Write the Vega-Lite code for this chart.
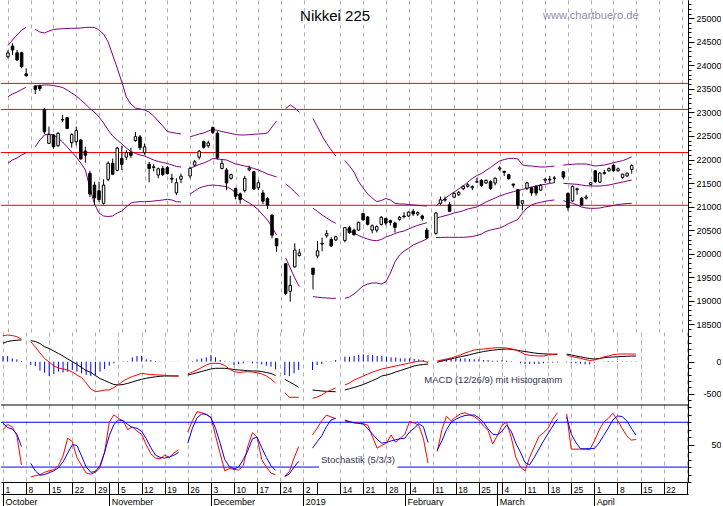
{
"$schema":"https://vega.github.io/schema/vega-lite/v6.json",
"padding":0,"background":"white",
"config":{"view":{"stroke":null},"font":"Liberation Sans","axis":{"labelFont":"Liberation Sans","labelFontSize":9,"labelColor":"#000","tickColor":"#000","domainColor":"#000","labelOverlap":false,"labelFlush":false,"labelBound":false}},
"datasets":{"px":[
{"t":0,"open":24185,"high":24320,"low":24150,"close":24265,"upper":24422,"mid":23334,"lower":21926,"macd":405,"signal":288,"hist":89,"k":70,"d":78.7},
{"t":1,"open":24412,"high":24469,"low":24220,"close":24326,"upper":24539,"mid":23392,"lower":21990,"macd":417,"signal":316,"hist":89,"k":77,"d":73},
{"t":2,"open":24269,"high":24326,"low":24099,"close":24114,"upper":24645,"mid":23434,"lower":22032,"macd":409,"signal":328,"hist":52,"k":74,"d":71},
{"t":3,"open":24269,"high":24290,"low":23937,"close":23972,"upper":24751,"mid":23487,"lower":22096,"macd":391,"signal":336,"hist":37,"k":62,"d":64},
{"t":4,"open":23820,"high":23938,"low":23760,"close":23783,"upper":24809,"mid":23534,"lower":22145,"macd":350,"signal":339,"hist":10,"k":23,"d":47.5},
{"t":5,"open":null,"high":null,"low":null,"close":null,"upper":null,"mid":null,"lower":null,"macd":null,"signal":null,"hist":null,"k":null,"d":null},
{"t":6,"open":23562,"high":23570,"low":23392,"close":23492,"upper":24766,"mid":23562,"lower":22272,"macd":313,"signal":328,"hist":-52,"k":6.6,"d":25},
{"t":7,"open":23560,"high":23590,"low":23450,"close":23506,"upper":24709,"mid":23572,"lower":22414,"macd":230,"signal":316,"hist":-68,"k":8.5,"d":15},
{"t":8,"open":23067,"high":23090,"low":22540,"close":22590,"upper":24688,"mid":23583,"lower":22521,"macd":136,"signal":284,"hist":-140,"k":9.7,"d":9},
{"t":9,"open":22344,"high":22700,"low":22330,"close":22530,"upper":24730,"mid":23583,"lower":22542,"macd":50,"signal":234,"hist":-172,"k":13,"d":10},
{"t":10,"open":22521,"high":22539,"low":22229,"close":22272,"upper":24762,"mid":23572,"lower":22521,"macd":-5,"signal":206,"hist":-224,"k":15,"d":12.5},
{"t":11,"open":22291,"high":22580,"low":22270,"close":22557,"upper":24773,"mid":23551,"lower":22457,"macd":-67,"signal":167,"hist":-193,"k":16.4,"d":15},
{"t":12,"open":22850,"high":22950,"low":22800,"close":22841,"upper":24779,"mid":23530,"lower":22372,"macd":-98,"signal":128,"hist":-156,"k":22,"d":19},
{"t":13,"open":22890,"high":22900,"low":22650,"close":22658,"upper":24783,"mid":23477,"lower":22266,"macd":-114,"signal":89,"hist":-167,"k":35,"d":27},
{"t":14,"open":22357,"high":22557,"low":22251,"close":22532,"upper":24788,"mid":23413,"lower":22159,"macd":-130,"signal":42,"hist":-156,"k":58.7,"d":38.7},
{"t":15,"open":22378,"high":22700,"low":22300,"close":22614,"upper":24788,"mid":23349,"lower":22053,"macd":-161,"signal":3,"hist":-130,"k":54,"d":50},
{"t":16,"open":22414,"high":22430,"low":22000,"close":22010,"upper":24794,"mid":23264,"lower":21926,"macd":-208,"signal":-44,"hist":-156,"k":33,"d":49},
{"t":17,"open":22180,"high":22270,"low":21933,"close":22091,"upper":24805,"mid":23179,"lower":21777,"macd":-247,"signal":-91,"hist":-182,"k":22,"d":35},
{"t":18,"open":21707,"high":21760,"low":21200,"close":21268,"upper":24809,"mid":23084,"lower":21395,"macd":-333,"signal":-138,"hist":-208,"k":12,"d":20},
{"t":19,"open":21459,"high":21529,"low":21034,"close":21184,"upper":24805,"mid":23009,"lower":21055,"macd":-427,"signal":-169,"hist":-224,"k":10.5,"d":13},
{"t":20,"open":21337,"high":21530,"low":21100,"close":21149,"upper":24751,"mid":22903,"lower":20863,"macd":-466,"signal":-216,"hist":-208,"k":13,"d":14},
{"t":21,"open":21070,"high":21580,"low":21040,"close":21457,"upper":24666,"mid":22776,"lower":20800,"macd":-458,"signal":-263,"hist":-156,"k":19,"d":22},
{"t":22,"open":21580,"high":21960,"low":21540,"close":21920,"upper":24497,"mid":22627,"lower":20789,"macd":-442,"signal":-294,"hist":-115,"k":40,"d":40},
{"t":23,"open":21920,"high":22020,"low":21680,"close":21687,"upper":24220,"mid":22500,"lower":20800,"macd":-442,"signal":-325,"hist":-62,"k":80,"d":62},
{"t":24,"open":21770,"high":22270,"low":21750,"close":22243,"upper":23944,"mid":22414,"lower":20863,"macd":-403,"signal":-356,"hist":-26,"k":90,"d":77},
{"t":25,"open":22025,"high":22287,"low":21777,"close":21898,"upper":23647,"mid":22330,"lower":20906,"macd":-356,"signal":-364,"hist":3,"k":85,"d":83},
{"t":26,"open":22050,"high":22200,"low":21990,"close":22147,"upper":23328,"mid":22245,"lower":20991,"macd":-302,"signal":-356,"hist":5,"k":82,"d":82},
{"t":27,"open":22150,"high":22250,"low":22030,"close":22085,"upper":23179,"mid":22170,"lower":21076,"macd":-263,"signal":-338,"hist":10,"k":70,"d":77},
{"t":28,"open":22400,"high":22583,"low":22380,"close":22486,"upper":23094,"mid":22128,"lower":21097,"macd":-231,"signal":-317,"hist":68,"k":74,"d":73},
{"t":29,"open":22480,"high":22520,"low":22200,"close":22250,"upper":23073,"mid":22096,"lower":21104,"macd":-208,"signal":-294,"hist":89,"k":68,"d":72},
{"t":30,"open":22145,"high":22340,"low":22100,"close":22269,"upper":23052,"mid":22075,"lower":21104,"macd":-181,"signal":-275,"hist":89,"k":64,"d":68},
{"t":31,"open":21900,"high":21950,"low":21516,"close":21810,"upper":23009,"mid":22032,"lower":21108,"macd":-192,"signal":-259,"hist":37,"k":50,"d":58},
{"t":32,"open":21830,"high":21900,"low":21750,"close":21846,"upper":22924,"mid":21990,"lower":21118,"macd":-200,"signal":-247,"hist":26,"k":38,"d":46},
{"t":33,"open":21670,"high":21830,"low":21600,"close":21803,"upper":22818,"mid":21958,"lower":21129,"macd":-205,"signal":-236,"hist":10,"k":32,"d":36},
{"t":34,"open":21810,"high":21860,"low":21650,"close":21680,"upper":22712,"mid":21937,"lower":21140,"macd":-208,"signal":-228,"hist":5,"k":31,"d":33},
{"t":35,"open":21830,"high":21860,"low":21680,"close":21700,"upper":22595,"mid":21915,"lower":21155,"macd":-213,"signal":-223,"hist":3,"k":36,"d":32},
{"t":36,"open":21600,"high":21700,"low":21500,"close":21583,"upper":22574,"mid":21884,"lower":21140,"macd":-220,"signal":-223,"hist":3,"k":33,"d":33.5},
{"t":37,"open":21290,"high":21600,"low":21243,"close":21507,"upper":22557,"mid":21852,"lower":21104,"macd":-223,"signal":-223,"hist":3,"k":39,"d":36},
{"t":38,"open":21580,"high":21700,"low":21500,"close":21646,"upper":22542,"mid":21841,"lower":21097,"macd":-223,"signal":-223,"hist":3,"k":43,"d":39.5},
{"t":39,"open":null,"high":null,"low":null,"close":null,"upper":null,"mid":null,"lower":null,"macd":null,"signal":null,"hist":null,"k":null,"d":null},
{"t":40,"open":21650,"high":21850,"low":21600,"close":21812,"upper":22485,"mid":21813,"lower":21267,"macd":-192,"signal":-208,"hist":5,"k":67,"d":52},
{"t":41,"open":21880,"high":21990,"low":21850,"close":21952,"upper":22510,"mid":21852,"lower":21331,"macd":-161,"signal":-192,"hist":10,"k":82,"d":72},
{"t":42,"open":22050,"high":22200,"low":22000,"close":22177,"upper":22542,"mid":21894,"lower":21395,"macd":-130,"signal":-172,"hist":37,"k":94,"d":86},
{"t":43,"open":22380,"high":22400,"low":22230,"close":22262,"upper":22563,"mid":21926,"lower":21427,"macd":-91,"signal":-153,"hist":52,"k":93,"d":91},
{"t":44,"open":22290,"high":22400,"low":22250,"close":22351,"upper":22606,"mid":21968,"lower":21448,"macd":-52,"signal":-133,"hist":68,"k":90,"d":91},
{"t":45,"open":22680,"high":22700,"low":22540,"close":22575,"upper":22642,"mid":22021,"lower":21458,"macd":-25,"signal":-114,"hist":104,"k":87,"d":86},
{"t":46,"open":22557,"high":22600,"low":22000,"close":22036,"upper":22617,"mid":22011,"lower":21448,"macd":-25,"signal":-103,"hist":68,"k":62,"d":72},
{"t":47,"open":21810,"high":22000,"low":21790,"close":21919,"upper":22595,"mid":22000,"lower":21437,"macd":-28,"signal":-103,"hist":26,"k":38,"d":52},
{"t":48,"open":21777,"high":21820,"low":21350,"close":21501,"upper":22574,"mid":21990,"lower":21423,"macd":-59,"signal":-103,"hist":8,"k":15,"d":30},
{"t":49,"open":21600,"high":21700,"low":21570,"close":21679,"upper":22553,"mid":21947,"lower":21373,"macd":-114,"signal":-111,"hist":3,"k":18,"d":20.8},
{"t":50,"open":21380,"high":21400,"low":21150,"close":21219,"upper":22531,"mid":21905,"lower":21295,"macd":-153,"signal":-122,"hist":-52,"k":17,"d":17.5},
{"t":51,"open":21270,"high":21300,"low":21060,"close":21148,"upper":22521,"mid":21884,"lower":21204,"macd":-169,"signal":-130,"hist":-36,"k":16,"d":20},
{"t":52,"open":21340,"high":21650,"low":21300,"close":21602,"upper":22521,"mid":21862,"lower":21129,"macd":-161,"signal":-134,"hist":-26,"k":22,"d":30},
{"t":53,"open":21780,"high":21870,"low":21750,"close":21816,"upper":22527,"mid":21841,"lower":21076,"macd":-156,"signal":-141,"hist":-5,"k":48,"d":42},
{"t":54,"open":21740,"high":21760,"low":21350,"close":21374,"upper":22536,"mid":21809,"lower":21012,"macd":-161,"signal":-145,"hist":-26,"k":66,"d":58},
{"t":55,"open":21400,"high":21560,"low":21350,"close":21506,"upper":22542,"mid":21777,"lower":20927,"macd":-172,"signal":-145,"hist":-26,"k":60,"d":60},
{"t":56,"open":21290,"high":21350,"low":21050,"close":21115,"upper":22548,"mid":21735,"lower":20821,"macd":-192,"signal":-153,"hist":-42,"k":30,"d":46},
{"t":57,"open":21170,"high":21200,"low":20950,"close":21028,"upper":22563,"mid":21692,"lower":20715,"macd":-223,"signal":-169,"hist":-62,"k":20,"d":33},
{"t":58,"open":20820,"high":20830,"low":20326,"close":20392,"upper":22691,"mid":21660,"lower":20566,"macd":-270,"signal":-184,"hist":-78,"k":12,"d":22},
{"t":59,"open":20320,"high":20330,"low":20040,"close":20166,"upper":22818,"mid":21629,"lower":20396,"macd":-333,"signal":-216,"hist":-120,"k":9.7,"d":15.5},
{"t":60,"open":null,"high":null,"low":null,"close":null,"upper":null,"mid":null,"lower":null,"macd":null,"signal":null,"hist":null,"k":null,"d":null},
{"t":61,"open":19785,"high":19800,"low":19117,"close":19155,"upper":23084,"mid":21480,"lower":19908,"macd":-484,"signal":-275,"hist":-208,"k":7.5,"d":7.5},
{"t":62,"open":19200,"high":19530,"low":18980,"close":19327,"upper":23158,"mid":21405,"lower":19695,"macd":-556,"signal":-317,"hist":-224,"k":14,"d":11},
{"t":63,"open":19720,"high":20220,"low":19700,"close":20077,"upper":23094,"mid":21310,"lower":19483,"macd":-556,"signal":-356,"hist":-182,"k":32,"d":20},
{"t":64,"open":19960,"high":20100,"low":19940,"close":20015,"upper":23003,"mid":21210,"lower":19298,"macd":-556,"signal":-400,"hist":-130,"k":47.5,"d":27.5},
{"t":65,"open":null,"high":null,"low":null,"close":null,"upper":null,"mid":null,"lower":null,"macd":null,"signal":null,"hist":null,"k":null,"d":null},
{"t":66,"open":null,"high":null,"low":null,"close":null,"upper":null,"mid":null,"lower":null,"macd":null,"signal":null,"hist":null,"k":null,"d":null},
{"t":67,"open":19690,"high":19700,"low":19241,"close":19561,"upper":22871,"mid":20964,"lower":19086,"macd":-572,"signal":-442,"hist":-130,"k":63,"d":45.3},
{"t":68,"open":19950,"high":20266,"low":19900,"close":20060,"upper":22691,"mid":20896,"lower":19075,"macd":-552,"signal":-450,"hist":-52,"k":72,"d":54},
{"t":69,"open":20220,"high":20340,"low":20050,"close":20204,"upper":22500,"mid":20821,"lower":19064,"macd":-520,"signal":-458,"hist":-36,"k":82,"d":62},
{"t":70,"open":20380,"high":20500,"low":20340,"close":20427,"upper":22340,"mid":20757,"lower":19058,"macd":-473,"signal":-463,"hist":5,"k":89.7,"d":74},
{"t":71,"open":20300,"high":20350,"low":20140,"close":20163,"upper":22202,"mid":20694,"lower":19051,"macd":-442,"signal":-467,"hist":6,"k":87,"d":83},
{"t":72,"open":20290,"high":20380,"low":20270,"close":20359,"upper":22075,"mid":20645,"lower":19051,"macd":-411,"signal":-469,"hist":26,"k":85,"d":85.3},
{"t":73,"open":null,"high":null,"low":null,"close":null,"upper":null,"mid":null,"lower":null,"macd":null,"signal":null,"hist":null,"k":null,"d":null},
{"t":74,"open":20280,"high":20560,"low":20240,"close":20555,"upper":21979,"mid":20534,"lower":19051,"macd":-364,"signal":-442,"hist":78,"k":83,"d":82},
{"t":75,"open":20550,"high":20590,"low":20420,"close":20442,"upper":21862,"mid":20481,"lower":19079,"macd":-333,"signal":-422,"hist":78,"k":81,"d":80.5},
{"t":76,"open":20500,"high":20530,"low":20380,"close":20402,"upper":21735,"mid":20439,"lower":19143,"macd":-286,"signal":-403,"hist":89,"k":79,"d":79.5},
{"t":77,"open":20500,"high":20680,"low":20480,"close":20666,"upper":21533,"mid":20386,"lower":19228,"macd":-255,"signal":-380,"hist":104,"k":79,"d":78.5},
{"t":78,"open":20850,"high":20870,"low":20700,"close":20719,"upper":21395,"mid":20343,"lower":19313,"macd":-223,"signal":-356,"hist":115,"k":78,"d":77.5},
{"t":79,"open":20780,"high":20800,"low":20600,"close":20622,"upper":21267,"mid":20311,"lower":19355,"macd":-192,"signal":-325,"hist":104,"k":76,"d":71},
{"t":80,"open":20500,"high":20620,"low":20430,"close":20593,"upper":21182,"mid":20283,"lower":19377,"macd":-161,"signal":-294,"hist":104,"k":60,"d":64},
{"t":81,"open":20500,"high":20600,"low":20450,"close":20574,"upper":21104,"mid":20275,"lower":19377,"macd":-138,"signal":-263,"hist":89,"k":45.3,"d":57},
{"t":82,"open":20620,"high":20800,"low":20600,"close":20773,"upper":21129,"mid":20300,"lower":19355,"macd":-114,"signal":-223,"hist":89,"k":49,"d":52},
{"t":83,"open":20750,"high":20760,"low":20600,"close":20649,"upper":21172,"mid":20354,"lower":19398,"macd":-98,"signal":-208,"hist":78,"k":52,"d":53},
{"t":84,"open":20700,"high":20720,"low":20600,"close":20664,"upper":21140,"mid":20386,"lower":19589,"macd":-83,"signal":-188,"hist":68,"k":63,"d":55},
{"t":85,"open":20650,"high":20680,"low":20450,"close":20556,"upper":21070,"mid":20428,"lower":19823,"macd":-67,"signal":-161,"hist":68,"k":53,"d":56.5},
{"t":86,"open":20730,"high":20800,"low":20700,"close":20773,"upper":21055,"mid":20460,"lower":19971,"macd":-52,"signal":-138,"hist":52,"k":58.7,"d":58},
{"t":87,"open":20800,"high":20880,"low":20750,"close":20788,"upper":21055,"mid":20481,"lower":20056,"macd":-36,"signal":-114,"hist":52,"k":64,"d":58.7},
{"t":88,"open":20800,"high":20900,"low":20780,"close":20883,"upper":21044,"mid":20524,"lower":20114,"macd":-20,"signal":-91,"hist":52,"k":81,"d":67},
{"t":89,"open":20900,"high":20950,"low":20800,"close":20844,"upper":21034,"mid":20566,"lower":20184,"macd":-5,"signal":-67,"hist":42,"k":79,"d":72},
{"t":90,"open":20840,"high":20900,"low":20800,"close":20874,"upper":21027,"mid":20602,"lower":20226,"macd":8,"signal":-52,"hist":37,"k":76,"d":78},
{"t":91,"open":20800,"high":20830,"low":20700,"close":20751,"upper":21019,"mid":20630,"lower":20269,"macd":11,"signal":-44,"hist":26,"k":58,"d":74},
{"t":92,"open":20500,"high":20550,"low":20315,"close":20333,"upper":21012,"mid":20658,"lower":20311,"macd":-12,"signal":-36,"hist":10,"k":25.3,"d":52.8},
{"t":93,"open":null,"high":null,"low":null,"close":null,"upper":null,"mid":null,"lower":null,"macd":null,"signal":null,"hist":null,"k":null,"d":null},
{"t":94,"open":20430,"high":20880,"low":20400,"close":20864,"upper":21012,"mid":20751,"lower":20343,"macd":11,"signal":-9,"hist":5,"k":40.8,"d":43.1},
{"t":95,"open":21070,"high":21213,"low":21030,"close":21144,"upper":21097,"mid":20779,"lower":20343,"macd":27,"signal":11,"hist":26,"k":70,"d":55},
{"t":96,"open":21150,"high":21213,"low":21100,"close":21139,"upper":21172,"mid":20806,"lower":20347,"macd":42,"signal":27,"hist":37,"k":88,"d":70},
{"t":97,"open":21040,"high":21100,"low":20900,"close":20900,"upper":21246,"mid":20832,"lower":20347,"macd":58,"signal":45,"hist":52,"k":82,"d":80},
{"t":98,"open":21200,"high":21300,"low":21180,"close":21281,"upper":21310,"mid":20864,"lower":20347,"macd":81,"signal":61,"hist":52,"k":87,"d":84},
{"t":99,"open":21250,"high":21330,"low":21230,"close":21302,"upper":21373,"mid":20885,"lower":20347,"macd":105,"signal":77,"hist":52,"k":91,"d":87},
{"t":100,"open":21380,"high":21450,"low":21350,"close":21431,"upper":21437,"mid":20913,"lower":20347,"macd":136,"signal":92,"hist":52,"k":92.8,"d":89},
{"t":101,"open":21430,"high":21500,"low":21400,"close":21464,"upper":21522,"mid":20949,"lower":20354,"macd":159,"signal":108,"hist":42,"k":90,"d":89.7},
{"t":102,"open":21400,"high":21450,"low":21350,"close":21425,"upper":21597,"mid":20970,"lower":20364,"macd":183,"signal":127,"hist":37,"k":87.5,"d":89.7},
{"t":103,"open":21520,"high":21610,"low":21500,"close":21528,"upper":21660,"mid":20991,"lower":20386,"macd":191,"signal":144,"hist":37,"k":83,"d":86},
{"t":104,"open":21560,"high":21580,"low":21420,"close":21449,"upper":21703,"mid":21044,"lower":20417,"macd":198,"signal":158,"hist":26,"k":75,"d":80},
{"t":105,"open":21500,"high":21580,"low":21480,"close":21556,"upper":21767,"mid":21097,"lower":20471,"macd":206,"signal":170,"hist":26,"k":69,"d":71},
{"t":106,"open":21530,"high":21560,"low":21350,"close":21385,"upper":21830,"mid":21140,"lower":20502,"macd":214,"signal":180,"hist":16,"k":51,"d":64},
{"t":107,"open":21500,"high":21620,"low":21450,"close":21602,"upper":21905,"mid":21182,"lower":20524,"macd":219,"signal":188,"hist":16,"k":62,"d":63},
{"t":108,"open":21800,"high":21860,"low":21760,"close":21822,"upper":21968,"mid":21225,"lower":20545,"macd":219,"signal":194,"hist":26,"k":76,"d":68},
{"t":109,"open":21750,"high":21760,"low":21650,"close":21726,"upper":22000,"mid":21257,"lower":20587,"macd":214,"signal":198,"hist":16,"k":80,"d":76},
{"t":110,"open":21680,"high":21700,"low":21570,"close":21596,"upper":22021,"mid":21289,"lower":20641,"macd":203,"signal":194,"hist":10,"k":60,"d":68},
{"t":111,"open":21480,"high":21480,"low":21400,"close":21456,"upper":22026,"mid":21316,"lower":20683,"macd":183,"signal":183,"hist":3,"k":33,"d":52},
{"t":112,"open":21360,"high":21370,"low":20950,"close":21025,"upper":22011,"mid":21342,"lower":20726,"macd":152,"signal":170,"hist":-26,"k":20,"d":40},
{"t":113,"open":21070,"high":21140,"low":20930,"close":21125,"upper":21883,"mid":21363,"lower":20863,"macd":113,"signal":159,"hist":-36,"k":15,"d":26},
{"t":114,"open":21390,"high":21530,"low":21350,"close":21503,"upper":21868,"mid":21389,"lower":20970,"macd":100,"signal":148,"hist":-36,"k":33,"d":23},
{"t":115,"open":21400,"high":21410,"low":21230,"close":21290,"upper":21862,"mid":21416,"lower":21034,"macd":94,"signal":136,"hist":-36,"k":47,"d":33},
{"t":116,"open":21430,"high":21450,"low":21230,"close":21287,"upper":21851,"mid":21437,"lower":21070,"macd":89,"signal":128,"hist":-36,"k":61,"d":44},
{"t":117,"open":21350,"high":21480,"low":21330,"close":21450,"upper":21841,"mid":21458,"lower":21091,"macd":89,"signal":123,"hist":-26,"k":66,"d":55},
{"t":118,"open":21560,"high":21600,"low":21500,"close":21584,"upper":21841,"mid":21473,"lower":21112,"macd":105,"signal":120,"hist":-15,"k":72,"d":65},
{"t":119,"open":21580,"high":21650,"low":21500,"close":21566,"upper":21851,"mid":21490,"lower":21129,"macd":113,"signal":117,"hist":-15,"k":84,"d":75},
{"t":120,"open":21600,"high":21650,"low":21500,"close":21608,"upper":21862,"mid":21507,"lower":21140,"macd":120,"signal":116,"hist":-10,"k":92.8,"d":84},
{"t":121,"open":null,"high":null,"low":null,"close":null,"upper":null,"mid":null,"lower":null,"macd":null,"signal":null,"hist":null,"k":null,"d":null},
{"t":122,"open":21740,"high":21750,"low":21580,"close":21627,"upper":21883,"mid":21495,"lower":21125,"macd":105,"signal":120,"hist":-10,"k":91,"d":87.5},
{"t":123,"open":21280,"high":21300,"low":20911,"close":20977,"upper":21890,"mid":21486,"lower":21097,"macd":81,"signal":105,"hist":-26,"k":44,"d":64},
{"t":124,"open":21120,"high":21450,"low":21100,"close":21428,"upper":21898,"mid":21480,"lower":21070,"macd":66,"signal":89,"hist":-26,"k":44,"d":53},
{"t":125,"open":21360,"high":21400,"low":21250,"close":21378,"upper":21905,"mid":21473,"lower":21034,"macd":53,"signal":77,"hist":-30,"k":44,"d":44.5},
{"t":126,"open":21180,"high":21200,"low":21030,"close":21033,"upper":21905,"mid":21458,"lower":20991,"macd":34,"signal":61,"hist":-42,"k":44,"d":44.5},
{"t":127,"open":21180,"high":21250,"low":21150,"close":21205,"upper":21905,"mid":21444,"lower":20970,"macd":19,"signal":50,"hist":-42,"k":43,"d":44.7},
{"t":128,"open":21470,"high":21520,"low":21450,"close":21509,"upper":21883,"mid":21437,"lower":20963,"macd":27,"signal":42,"hist":-15,"k":55,"d":44.7},
{"t":129,"open":21760,"high":21770,"low":21500,"close":21530,"upper":21862,"mid":21437,"lower":20963,"macd":45,"signal":50,"hist":3,"k":69,"d":52},
{"t":130,"open":21520,"high":21730,"low":21500,"close":21713,"upper":21873,"mid":21437,"lower":20970,"macd":73,"signal":61,"hist":5,"k":80,"d":62},
{"t":131,"open":21700,"high":21780,"low":21680,"close":21724,"upper":21883,"mid":21448,"lower":20991,"macd":89,"signal":69,"hist":10,"k":85,"d":72},
{"t":132,"open":21760,"high":21830,"low":21740,"close":21807,"upper":21905,"mid":21458,"lower":21006,"macd":109,"signal":73,"hist":8,"k":92,"d":83},
{"t":133,"open":21880,"high":21900,"low":21740,"close":21761,"upper":21932,"mid":21480,"lower":21023,"macd":117,"signal":77,"hist":10,"k":83,"d":88.4},
{"t":134,"open":21760,"high":21830,"low":21740,"close":21802,"upper":21954,"mid":21501,"lower":21044,"macd":120,"signal":81,"hist":6,"k":72,"d":87.7},
{"t":135,"open":21620,"high":21700,"low":21590,"close":21687,"upper":21975,"mid":21522,"lower":21055,"macd":120,"signal":84,"hist":6,"k":62,"d":82},
{"t":136,"open":21650,"high":21720,"low":21630,"close":21711,"upper":22011,"mid":21543,"lower":21065,"macd":120,"signal":88,"hist":6,"k":56,"d":72},
{"t":137,"open":21790,"high":21900,"low":21700,"close":21870,"upper":22060,"mid":21565,"lower":21070,"macd":120,"signal":89,"hist":6,"k":57,"d":63}
]},
"vconcat":[
{"width":687,"height":332,
 "resolve":{"axis":{"y":"independent","x":"independent"}},
 "layer":[
  {"data":{"values":[{"level":23617},{"level":23064},{"level":22149},{"level":21027}]},
   "mark":{"type":"rule","color":"#ff0000","strokeWidth":1},
   "encoding":{"y":{"field":"level","type":"quantitative","scale":{"domain":[18335.4,25388.8],"nice":false,"zero":false},
     "axis":{"orient":"right","title":null,"values":[18500,19000,19500,20000,20500,21000,21500,22000,22500,23000,23500,24000,24500,25000],"format":"d","tickSize":6,"labelAlign":"right","labelBaseline":"middle","labelPadding":27,"grid":false,"domain":true}}}},
  {"data":{"name":"px"},"mark":{"type":"line","color":"#800080","strokeWidth":1,"invalid":"break-paths-filter-domains"},
   "encoding":{"x":{"field":"t","type":"quantitative","scale":{"domain":[-0.433,148.27],"nice":false,"zero":false},
     "axis":{"title":null,"values":[0,5,10,15,20,25,30,35,40,45,50,55,60,65,73,78,83,88,93,98,103,108,113,118,123,128,133,138,143,148],"labels":false,"ticks":false,"domain":false,"grid":true,"gridDash":[4,4],"gridColor":"#b0b0b0","gridOpacity":1}},
    "y":{"field":"upper","type":"quantitative","scale":{"domain":[18335.4,25388.8],"nice":false,"zero":false},
     "axis":{"orient":"right","title":null,"values":[18400,18600,18700,18800,18900,19100,19200,19300,19400,19600,19700,19800,19900,20100,20200,20300,20400,20600,20700,20800,20900,21100,21200,21300,21400,21600,21700,21800,21900,22100,22200,22300,22400,22600,22700,22800,22900,23100,23200,23300,23400,23600,23700,23800,23900,24100,24200,24300,24400,24600,24700,24800,24900,25100,25200,25300],"tickSize":3,"labels":false,"grid":false,"domain":true}}}},
  {"data":{"name":"px"},"mark":{"type":"line","color":"#800080","strokeWidth":1,"invalid":"break-paths-filter-domains"},
   "encoding":{"x":{"field":"t","type":"quantitative","scale":{"domain":[-0.433,148.27],"nice":false,"zero":false},"axis":null},
    "y":{"field":"mid","type":"quantitative","scale":{"domain":[18335.4,25388.8],"nice":false,"zero":false},"axis":null}}},
  {"data":{"name":"px"},"mark":{"type":"line","color":"#800080","strokeWidth":1,"invalid":"break-paths-filter-domains"},
   "encoding":{"x":{"field":"t","type":"quantitative","scale":{"domain":[-0.433,148.27],"nice":false,"zero":false},"axis":null},
    "y":{"field":"lower","type":"quantitative","scale":{"domain":[18335.4,25388.8],"nice":false,"zero":false},"axis":null}}},
  {"data":{"name":"px"},"mark":{"type":"rule","color":"#000","strokeWidth":1,"invalid":"filter"},
   "encoding":{"x":{"field":"t","type":"quantitative","scale":{"domain":[-0.433,148.27],"nice":false,"zero":false},"axis":null},
    "y":{"field":"low","type":"quantitative","scale":{"domain":[18335.4,25388.8],"nice":false,"zero":false},"axis":null},"y2":{"field":"high"}}},
  {"data":{"name":"px"},"mark":{"type":"bar","width":2.5,"stroke":"#000","strokeWidth":1,"invalid":"filter"},
   "encoding":{"x":{"field":"t","type":"quantitative","scale":{"domain":[-0.433,148.27],"nice":false,"zero":false},"axis":null},
    "y":{"field":"open","type":"quantitative","scale":{"domain":[18335.4,25388.8],"nice":false,"zero":false},"axis":null},"y2":{"field":"close"},
    "fill":{"condition":{"test":"datum.close < datum.open","value":"#000"},"value":"#fff"}}},
  {"data":{"values":[{"t":71.86,"v":24949,"label":"Nikkei 225"}]},"mark":{"type":"text","font":"Liberation Sans","fontSize":15,"color":"#000","align":"center","baseline":"alphabetic"},
   "encoding":{"x":{"field":"t","type":"quantitative","scale":{"domain":[-0.433,148.27],"nice":false,"zero":false},"axis":null},
    "y":{"field":"v","type":"quantitative","scale":{"domain":[18335.4,25388.8],"nice":false,"zero":false},"axis":null},"text":{"field":"label"}}},
  {"data":{"values":[{"t":117.5,"v":24979,"label":"www.chartbuero.de"}]},"mark":{"type":"text","font":"Liberation Sans","fontSize":11.2,"color":"#8f8fb0","align":"left","baseline":"alphabetic"},
   "encoding":{"x":{"field":"t","type":"quantitative","scale":{"domain":[-0.433,148.27],"nice":false,"zero":false},"axis":null},
    "y":{"field":"v","type":"quantitative","scale":{"domain":[18335.4,25388.8],"nice":false,"zero":false},"axis":null},"text":{"field":"label"}}}
 ]},
{"width":687,"height":73,
 "resolve":{"axis":{"y":"independent","x":"independent"}},
 "layer":[
  {"data":{"name":"px"},"mark":{"type":"rule","color":"#0000ff","strokeWidth":1,"invalid":"filter"},
   "encoding":{"x":{"field":"t","type":"quantitative","scale":{"domain":[-0.433,148.27],"nice":false,"zero":false},
     "axis":{"title":null,"values":[0,5,10,15,20,25,30,35,40,45,50,55,60,65,73,78,83,88,93,98,103,108,113,118,123,128,133,138,143,148],"labels":false,"ticks":false,"domain":false,"grid":true,"gridDash":[4,4],"gridColor":"#b0b0b0","gridOpacity":1}},
    "y":{"field":"hist","type":"quantitative","scale":{"domain":[-676.5,464.1],"nice":false,"zero":false},
     "axis":{"orient":"right","title":null,"values":[-500,0],"labelExpr":"datum.value < 0 ? '-500' : '0'","tickSize":6,"labelAlign":"right","labelBaseline":"middle","labelPadding":27,"grid":false,"domain":true}},
    "y2":{"datum":0}}},
  {"data":{"name":"px"},"mark":{"type":"line","color":"#000","strokeWidth":1,"invalid":"break-paths-filter-domains"},
   "encoding":{"x":{"field":"t","type":"quantitative","scale":{"domain":[-0.433,148.27],"nice":false,"zero":false},"axis":null},
    "y":{"field":"signal","type":"quantitative","scale":{"domain":[-676.5,464.1],"nice":false,"zero":false},
     "axis":{"orient":"right","title":null,"values":[-600,-400,-300,-200,-100,100,200,300,400],"tickSize":3,"labels":false,"grid":false,"domain":true}}}},
  {"data":{"name":"px"},"mark":{"type":"line","color":"#ff0000","strokeWidth":1,"invalid":"break-paths-filter-domains"},
   "encoding":{"x":{"field":"t","type":"quantitative","scale":{"domain":[-0.433,148.27],"nice":false,"zero":false},"axis":null},
    "y":{"field":"macd","type":"quantitative","scale":{"domain":[-676.5,464.1],"nice":false,"zero":false},"axis":null}}},
  {"data":{"values":[{"t":91.2,"v":-337.5,"label":"MACD (12/26/9) mit Histogramm"}]},"mark":{"type":"text","font":"Liberation Sans","fontSize":9.5,"color":"#333355","align":"left","baseline":"alphabetic"},
   "encoding":{"x":{"field":"t","type":"quantitative","scale":{"domain":[-0.433,148.27],"nice":false,"zero":false},"axis":null},
    "y":{"field":"v","type":"quantitative","scale":{"domain":[-676.5,464.1],"nice":false,"zero":false},"axis":null},"text":{"field":"label"}}}
 ]},
{"width":687,"height":77,
 "resolve":{"axis":{"y":"independent","x":"independent"}},
 "layer":[
  {"data":{"values":[{}]},"mark":{"type":"rule","color":"#000","strokeWidth":1},
   "encoding":{"y":{"datum":103.1,"type":"quantitative","scale":{"domain":[0,103.1],"nice":false,"zero":false},"axis":null}}},
  {"data":{"values":[{}]},"mark":{"type":"rule","color":"#0000ff","strokeWidth":1},
   "encoding":{"y":{"datum":80,"type":"quantitative","scale":{"domain":[0,103.1],"nice":false,"zero":false},"axis":null}}},
  {"data":{"values":[{}]},"mark":{"type":"rule","color":"#0000ff","strokeWidth":1},
   "encoding":{"x":{"datum":-0.433,"type":"quantitative","scale":{"domain":[-0.433,148.27],"nice":false,"zero":false},"axis":null},"x2":{"datum":68.4},
    "y":{"datum":20,"type":"quantitative","scale":{"domain":[0,103.1],"nice":false,"zero":false},"axis":null}}},
  {"data":{"values":[{}]},"mark":{"type":"rule","color":"#0000ff","strokeWidth":1},
   "encoding":{"x":{"datum":85.4,"type":"quantitative","scale":{"domain":[-0.433,148.27],"nice":false,"zero":false},"axis":null},"x2":{"datum":148.27},
    "y":{"datum":20,"type":"quantitative","scale":{"domain":[0,103.1],"nice":false,"zero":false},"axis":null}}},
  {"data":{"name":"px"},"mark":{"type":"line","color":"#ff0000","strokeWidth":1,"invalid":"break-paths-filter-domains"},
   "encoding":{"x":{"field":"t","type":"quantitative","scale":{"domain":[-0.433,148.27],"nice":false,"zero":false},
     "axis":{"title":null,"values":[0,5,10,15,20,25,30,35,40,45,50,55,60,65,73,78,83,88,93,98,103,108,113,118,123,128,133,138,143,148],"labels":false,"ticks":false,"domain":false,"grid":true,"gridDash":[4,4],"gridColor":"#b0b0b0","gridOpacity":1}},
    "y":{"field":"k","type":"quantitative","scale":{"domain":[0,103.1],"nice":false,"zero":false},
     "axis":{"orient":"right","title":null,"values":[50],"tickSize":6,"labelAlign":"right","labelBaseline":"middle","labelPadding":27,"grid":false,"domain":true}}}},
  {"data":{"name":"px"},"mark":{"type":"line","color":"#0000ff","strokeWidth":1,"invalid":"break-paths-filter-domains"},
   "encoding":{"x":{"field":"t","type":"quantitative","scale":{"domain":[-0.433,148.27],"nice":false,"zero":false},
     "axis":{"orient":"bottom","title":null,"values":[0,5,10,15,20,23,25,30,35,40,45,50,55,60,65,68,73,78,83,87,88,93,98,103,107,108,113,118,123,128,133,138,143,148],
      "labelExpr":"['1','8','15','22','29','','5','12','19','26','3','10','17','24','2','','14','21','28','','4','11','18','25','','4','11','18','25','1','8','15','22',''][indexof([0,5,10,15,20,23,25,30,35,40,45,50,55,60,65,68,73,78,83,87,88,93,98,103,107,108,113,118,123,128,133,138,143,148],datum.value)]",
      "grid":false,"domain":true,"ticks":true,"tickSize":12,"labelAlign":"left","labelBaseline":"alphabetic","labelPadding":-1.5,"labelOffset":2,"labelFontSize":8.5}},
    "y":{"field":"d","type":"quantitative","scale":{"domain":[0,103.1],"nice":false,"zero":false},
     "axis":{"orient":"right","title":null,"values":[0,10,20,30,40,60,70,80,90,100],"tickSize":3,"labels":false,"grid":false,"domain":true}}}},
  {"data":{"values":[{"t":68.83,"v":26.1,"label":"Stochastik (5/3/3)"}]},"mark":{"type":"text","font":"Liberation Sans","fontSize":9.5,"color":"#333355","align":"left","baseline":"alphabetic"},
   "encoding":{"x":{"field":"t","type":"quantitative","scale":{"domain":[-0.433,148.27],"nice":false,"zero":false},
     "axis":{"orient":"bottom","offset":12,"title":null,"values":[0,23,45,65,87,107,128],
      "labelExpr":"['October','November','December','2019','February','March','April'][indexof([0,23,45,65,87,107,128],datum.value)]",
      "grid":false,"domain":true,"ticks":true,"tickSize":12,"labelAlign":"left","labelBaseline":"alphabetic","labelPadding":-1.5,"labelOffset":2,"labelFontSize":9}},
    "y":{"field":"v","type":"quantitative","scale":{"domain":[0,103.1],"nice":false,"zero":false},"axis":null},"text":{"field":"label"}}}
 ]}
],
"spacing":0,"bounds":"flush"
}
